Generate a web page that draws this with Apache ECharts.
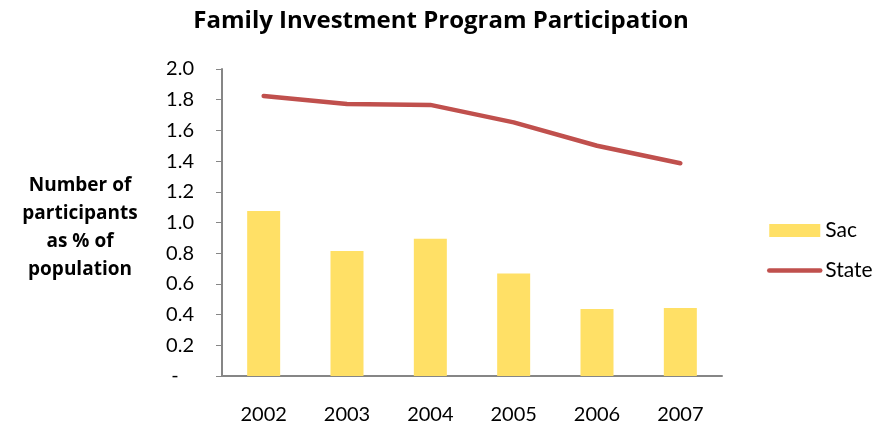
<!DOCTYPE html>
<html>
<head>
<meta charset="utf-8">
<script src="https://cdn.jsdelivr.net/npm/echarts@6/dist/echarts.min.js"></script>
<style>
  html, body { margin: 0; padding: 0; background: #fff; }
  #chart { width: 882px; height: 427px; }
</style>
</head>
<body>
<div id="chart"></div>
<script>
const years = ['2002', '2003', '2004', '2005', '2006', '2007']
const sacValues = [1.075, 0.814, 0.894, 0.667, 0.436, 0.443]
const stateValues = [1.824, 1.772, 1.766, 1.652, 1.50, 1.386]
const yTicks = { min: 0, max: 2, interval: 0.2 }

const font = 'Lato, "Open Sans", sans-serif'
const boldFont = '"Open Sans", Lato, sans-serif'
const chart = echarts.init(document.getElementById('chart'))

chart.setOption({
  animation: false,
  title: [{
    text: 'Family Investment Program Participation',
    left: 'center',
    top: 4,
    textStyle: { fontFamily: boldFont, fontSize: 24, fontWeight: 'bold', color: '#000' }
  }, {
    text: 'Number of\nparticipants\nas % of\npopulation',
    left: 75,
    top: 167,
    textAlign: 'center',
    textStyle: { fontFamily: boldFont, fontSize: 19, fontWeight: 'bold', color: '#000', lineHeight: 28, align: 'center' }
  }],
  legend: {
    orient: 'vertical',
    left: 762,
    top: 215,
    itemWidth: 51,
    itemHeight: 13,
    itemGap: 19,
    textStyle: { fontFamily: font, fontSize: 21, color: '#000' },
    data: [
      { name: 'Sac', icon: 'rect' },
      { name: 'State', itemStyle: { opacity: 0 }, lineStyle: { width: 4.5 } }
    ]
  },
  grid: { left: 222, right: 160, top: 69, bottom: 51 },
  xAxis: {
    type: 'category',
    data: years,
    axisLine: { lineStyle: { color: '#868686', width: 2 } },
    axisTick: { show: false },
    axisLabel: { fontFamily: font, fontSize: 20, color: '#000', margin: 29 }
  },
  yAxis: {
    type: 'value',
    min: yTicks.min,
    max: yTicks.max,
    interval: yTicks.interval,
    axisLine: { show: true, lineStyle: { color: '#868686', width: 2 } },
    axisTick: { show: true, length: 6, lineStyle: { color: '#868686' } },
    splitLine: { show: false },
    axisLabel: {
      fontFamily: font, fontSize: 20, color: '#000', margin: 28,
      formatter: v => v === 0 ? '-   ' : v.toFixed(1)
    }
  },
  series: [{
    name: 'Sac',
    type: 'bar',
    data: sacValues,
    barWidth: 33,
    itemStyle: { color: '#FFE066' }
  }, {
    name: 'State',
    type: 'line',
    data: stateValues,
    symbol: 'none',
    lineStyle: { color: '#C0504D', width: 4.5, cap: 'round' },
    itemStyle: { color: '#C0504D' }
  }]
})
</script>
</body>
</html>
